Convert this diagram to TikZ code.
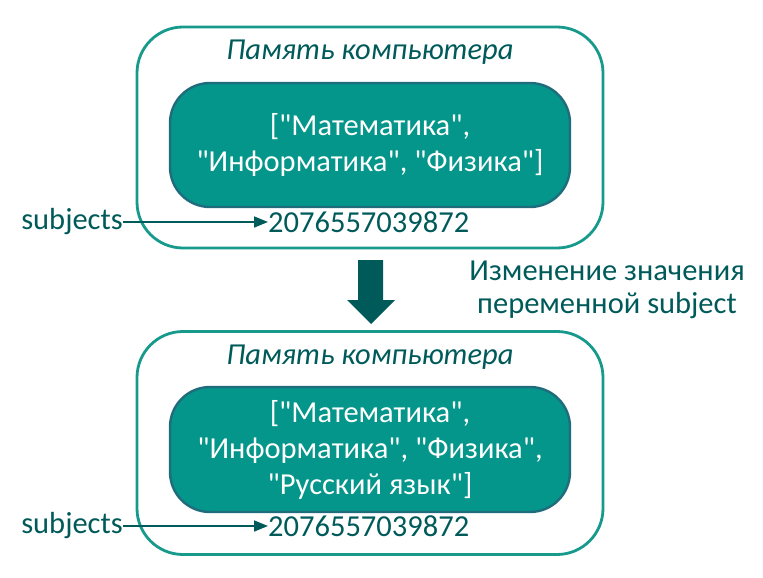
\documentclass[tikz,border=0pt]{standalone}
\usepackage{fontspec}
\setmainfont{Carlito}
\usetikzlibrary{arrows.meta}

\definecolor{memline}{HTML}{179A8C}
\definecolor{cellfill}{HTML}{04968A}
\definecolor{cellline}{HTML}{1F6C7C}
\definecolor{darkteal}{HTML}{005A5A}

\newcommand{\qt}{\textquotedbl}

\tikzset{
    membox/.style={draw=memline, line width=2.8pt, rounded corners=46pt, minimum width=466pt},
    cellbox/.style={draw=cellline, fill=cellfill, line width=2.4pt, rounded corners=40pt, minimum width=400pt,
        text=white, align=center, font=\fontsize{30.5}{36}\selectfont},
    txt/.style={text=darkteal, font=\fontsize{30.5}{36}\selectfont, inner sep=0pt},
    ptr/.style={draw=darkteal, line width=1.6pt, -{Triangle[length=14pt,width=11pt]}}
}

\begin{document}
\begin{tikzpicture}[x=1pt, y=-1pt]

    \useasboundingbox (0, 0) rectangle (763, 578);

    % before
    \node[membox, minimum height=221pt] (mem1) at (370, 137.5) {};
    \node[txt, font=\fontsize{30.5}{36}\selectfont\itshape] (title1) at (370, 52) {Память компьютера};
    \node[cellbox, minimum height=124pt] (list1) at (370, 145)
        {[\qt Математика\qt,\\ \qt Информатика\qt, \qt Физика\qt]};
    \node[txt, anchor=west] (addr1) at (268, 222) {2076557039872};
    \node[txt, anchor=east] (var1) at (123, 222) {subjects};
    \draw[ptr] (var1.east) -- (addr1.west);

    % change
    \fill[darkteal] (358, 260) -- (383, 260) -- (383, 300) -- (395, 300) -- (371, 324)
                    -- (347, 300) -- (358, 300) -- cycle;
    \node[txt, align=center, font=\fontsize{30.5}{33}\selectfont] (note) at (607, 289.5)
        {Изменение значения\\ переменной subject};

    % after
    \node[membox, minimum height=223pt] (mem2) at (370, 443) {};
    \node[txt, font=\fontsize{30.5}{36}\selectfont\itshape] (title2) at (370, 357) {Память компьютера};
    \node[cellbox, minimum height=125pt] (list2) at (370, 449.5)
        {[\qt Математика\qt,\\ \qt Информатика\qt, \qt Физика\qt,\\ \qt Русский язык\qt]};
    \node[txt, anchor=west] (addr2) at (268, 526) {2076557039872};
    \node[txt, anchor=east] (var2) at (123, 526) {subjects};
    \draw[ptr] (var2.east) -- (addr2.west);

\end{tikzpicture}
\end{document}
